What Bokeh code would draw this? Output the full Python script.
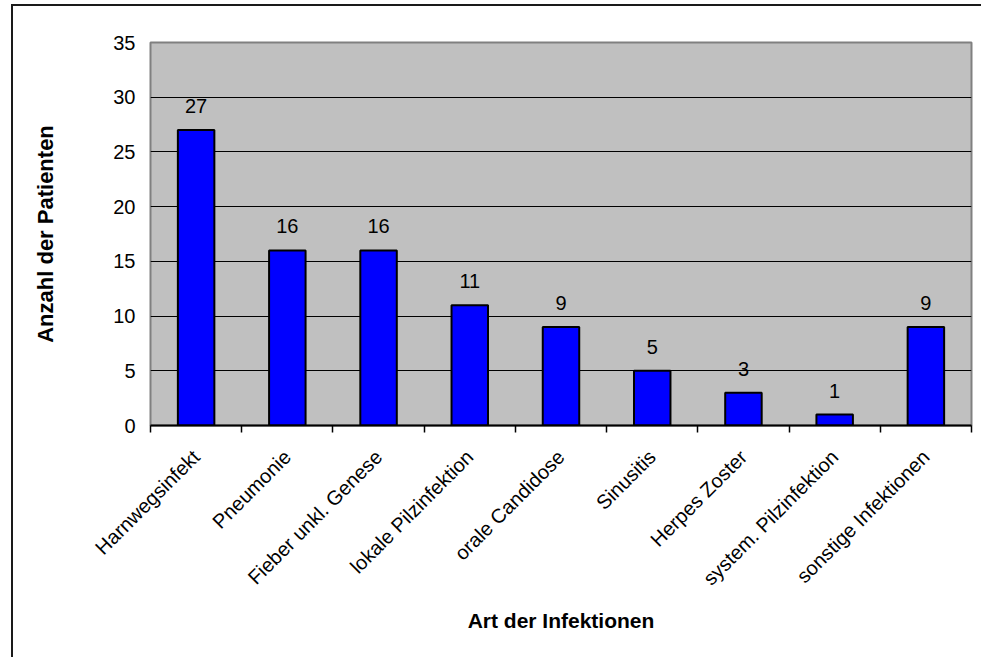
from bokeh.plotting import figure
from bokeh.models import FixedTicker, Range1d, ColumnDataSource, InlineStyleSheet
from bokeh.core.properties import value
from bokeh.embed import file_html
from bokeh.resources import INLINE

categories = ["Harnwegsinfekt", "Pneumonie", "Fieber unkl. Genese", "lokale Pilzinfektion",
              "orale Candidose", "Sinusitis", "Herpes Zoster", "system. Pilzinfektion",
              "sonstige Infektionen"]
counts = [27, 16, 16, 11, 9, 5, 3, 1, 9]
y_ticks = [0, 5, 10, 15, 20, 25, 30, 35]

FONT = "Liberation Sans"
n = len(categories)
centers = [i + 0.5 for i in range(n)]
bounds = list(range(n + 1))

src = ColumnDataSource(dict(x=centers, top=counts, lab=[str(c) for c in counts]))

p = figure(width=981, height=657, output_backend="svg", toolbar_location=None,
           x_range=Range1d(0, n), y_range=Range1d(0, 35),
           min_border_left=150, min_border_top=42, min_border_right=10, min_border_bottom=232)

# outer chart-area border: only its left and top edges are inside the page
p.border_fill_color = None
p.stylesheets = [InlineStyleSheet(css="""
:host {
  background-color: white;
  background-image: linear-gradient(#1a1a1a, #1a1a1a), linear-gradient(#1a1a1a, #1a1a1a);
  background-position: 11px 4px, 11px 4px;
  background-size: 2px 100%, 100% 2px;
  background-repeat: no-repeat;
}
""")]

p.background_fill_color = "#C0C0C0"
p.outline_line_color = "#808080"
p.outline_line_width = 2

p.vbar(x="x", top="top", width=0.4, bottom=0, source=src,
       fill_color="#0000FF", line_color="black", line_width=2)
p.text(x="x", y="top", text="lab", source=src, text_align="center", text_baseline="alphabetic",
       y_offset=-24, text_font=value(FONT), text_font_size="20px", text_color="black")

xa = p.xaxis[0]
xa.ticker = FixedTicker(ticks=centers, minor_ticks=bounds)
xa.major_label_overrides = {c: name for c, name in zip(centers, categories)}
xa.major_label_orientation = 0.785398
xa.major_tick_out = 0
xa.major_tick_in = 0
xa.minor_tick_out = 7
xa.minor_tick_in = 0
xa.minor_tick_line_color = "black"
xa.minor_tick_line_width = 1.5
xa.axis_line_color = "black"
xa.axis_line_width = 2
xa.major_label_text_font = FONT
xa.major_label_text_font_size = "20px"
xa.major_label_text_color = "black"
xa.major_label_standoff = 21
xa.axis_label = "Art der Infektionen"
xa.axis_label_text_font = FONT
xa.axis_label_text_font_style = "bold"
xa.axis_label_text_font_size = "21px"
xa.axis_label_text_color = "black"
xa.axis_label_standoff = 9

ya = p.yaxis[0]
ya.ticker = FixedTicker(ticks=y_ticks)
ya.axis_line_color = None
ya.major_tick_line_color = None
ya.minor_tick_line_color = None
ya.major_tick_out = 0
ya.major_label_standoff = 15
ya.major_label_text_font = FONT
ya.major_label_text_font_size = "20px"
ya.major_label_text_color = "black"
ya.axis_label = "Anzahl der Patienten"
ya.axis_label_text_font = FONT
ya.axis_label_text_font_style = "bold"
ya.axis_label_text_font_size = "22px"
ya.axis_label_text_color = "black"
ya.axis_label_standoff = 52

p.xgrid.grid_line_color = None
p.ygrid.ticker = FixedTicker(ticks=y_ticks[1:-1])
p.ygrid.grid_line_color = "black"
p.ygrid.grid_line_width = 1

open("out.html", "w").write(file_html(p, INLINE))
